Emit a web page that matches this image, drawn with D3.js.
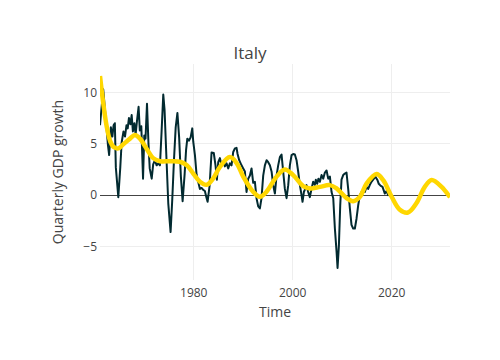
<!DOCTYPE html>
<html>
<head>
<meta charset="utf-8">
<script src="https://cdn.jsdelivr.net/npm/d3@7"></script>
<style>
  html, body { margin: 0; padding: 0; background: #fff; }
  svg { display: block; }
  text { font-family: "Open Sans", verdana, arial, sans-serif; fill: #444; }
</style>
</head>
<body>
<svg id="chart" width="500" height="360"></svg>
<script>
// ---- data ----
const chartTitle = "Italy";
const xTitle = "Time";
const yTitle = "Quarterly GDP growth";

// black series: quarterly GDP growth (time in decimal years, value in %)
const gdpTime = [
  1961.15,1961.8,1962.5,1962.75,1963.0,1963.35,1963.65,1963.9,1964.15,1964.35,
  1964.85,1965.25,1965.52,1965.9,1966.2,1966.5,1966.75,1967.0,1967.3,1967.55,
  1967.8,1968.1,1968.35,1968.6,1968.95,1969.2,1969.5,1969.85,1970.1,1970.35,
  1970.65,1970.95,1971.2,1971.6,1971.9,1972.25,1972.6,1972.93,1973.27,1973.6,
  1973.94,1974.2,1974.6,1974.95,1975.42,1975.75,1976.1,1976.45,1976.8,1977.15,
  1977.5,1977.85,1978.25,1978.55,1978.8,1979.12,1979.46,1979.8,1980.0,1980.34,
  1980.67,1981.0,1981.35,1981.68,1982.02,1982.35,1982.65,1982.9,1983.3,1983.7,
  1984.15,1984.5,1984.78,1985.05,1985.39,1985.73,1986.13,1986.4,1986.73,1987.07,
  1987.41,1987.74,1988.08,1988.42,1988.75,1988.96,1989.29,1989.76,1990.1,1990.44,
  1990.77,1991.11,1991.45,1991.78,1992.12,1992.46,1992.79,1993.13,1993.47,1993.8,
  1994.14,1994.48,1994.82,1995.15,1995.49,1995.83,1996.16,1996.5,1996.84,1997.17,
  1997.51,1997.85,1998.18,1998.52,1998.86,1999.2,1999.53,1999.87,2000.2,2000.54,
  2000.88,2001.21,2001.55,2001.89,2002.09,2002.36,2002.63,2002.9,2003.23,2003.57,
  2003.9,2004.24,2004.58,2004.78,2005.05,2005.3,2005.6,2005.94,2006.27,2006.61,
  2006.95,2007.28,2007.62,2007.96,2008.3,2008.63,2008.97,2009.17,2009.44,2009.71,
  2009.97,2010.31,2010.65,2010.98,2011.32,2011.66,2011.99,2012.33,2012.67,2013.0,
  2013.34,2013.68,2014.01,2014.35,2014.69,2015.02,2015.36,2015.7,2016.03,2016.37,
  2016.8,2017.2,2017.5,2017.9,2018.26,2018.73,2019.07,2019.4,2019.6
];
const gdpGrowth = [
  6.8,10.3,6.4,4.9,3.9,6.6,5.7,6.8,7.0,2.7,
  -0.2,2.7,5.1,6.2,5.7,6.8,6.5,7.5,6.9,7.8,
  6.2,7.0,5.9,7.1,8.6,6.3,6.7,1.6,5.8,5.5,
  8.9,5.0,2.6,1.6,3.0,3.4,2.9,3.1,2.9,6.2,
  9.8,8.3,3.4,-0.8,-3.6,-0.5,3.4,6.6,8.0,5.6,
  1.8,-0.6,2.0,4.4,5.5,5.3,5.6,6.5,5.2,3.9,
  2.0,1.3,0.6,0.7,0.5,0.4,-0.2,-0.65,0.9,4.15,
  4.1,2.9,1.5,3.2,3.6,2.9,3.2,2.8,3.1,2.6,
  3.1,2.9,4.2,4.55,4.6,4.0,3.4,2.9,2.6,2.3,
  0.3,1.6,1.9,2.6,1.2,1.3,-0.3,-1.1,-1.3,-0.3,
  1.9,2.9,3.4,3.2,2.9,2.3,0.97,0.15,1.9,2.9,
  3.7,3.95,2.3,0.6,-0.3,0.97,2.9,3.9,4.0,3.95,
  3.4,2.3,1.0,0.0,-0.65,0.3,0.6,0.97,0.3,-0.2,
  0.6,1.3,1.0,1.5,1.1,1.6,1.3,1.95,1.6,2.2,
  2.4,1.6,1.8,0.3,-0.3,-3.25,-5.5,-7.1,-4.9,-1.0,
  1.5,1.95,2.1,2.2,0.6,-1.3,-2.9,-3.25,-3.25,-2.3,
  -1.0,0.0,0.3,0.5,0.3,0.8,0.6,1.0,1.3,1.5,
  1.8,1.5,1.1,0.9,0.8,0.15,0.4,0.0,0.1
];

// yellow series: smooth trend/cycle, extends beyond the data
const trendTime = [
  1961.15,1961.82,1962.5,1963.17,1963.84,1964.85,1965.86,1967.21,1968.2,1969.23,
  1970.6,1971.9,1973.3,1975.25,1977.3,1978.7,1980.0,1981.35,1982.7,1984.0,
  1985.4,1987.4,1988.8,1990.1,1992.1,1993.5,1994.8,1996.85,1998.5,2000.2,
  2002.2,2003.6,2005.6,2007.6,2008.97,2011.0,2012.3,2013.7,2015.0,2017.05,
  2018.4,2020.1,2021.7,2023.4,2025.1,2026.8,2028.2,2030.2,2031.9
];
const trendValue = [
  11.6,8.9,6.7,5.3,4.7,4.55,4.95,5.5,5.85,5.5,
  4.5,3.6,3.3,3.3,3.25,2.9,2.1,1.3,1.0,1.6,
  2.75,3.7,3.1,1.8,0.33,-0.16,0.33,1.8,2.5,1.95,
  0.88,0.65,0.8,0.97,0.65,-0.3,-0.6,-0.16,1.1,2.05,
  1.45,-0.16,-1.4,-1.7,-0.8,0.8,1.46,0.8,-0.2
];

const xTickValues = [1980, 2000, 2020];
const yTickValues = [-5, 0, 5, 10];

// ---- layout ----
const W = 500, H = 360;
const margin = { left: 100, right: 50, top: 64, bottom: 80 };
const plotW = W - margin.left - margin.right;
const plotH = H - margin.top - margin.bottom;

const svg = d3.select("#chart");

const gdpData = gdpTime.map((t, i) => ({ t, v: gdpGrowth[i] }));
const trendData = trendTime.map((t, i) => ({ t, v: trendValue[i] }));
const allT = gdpTime.concat(trendTime);
const allV = gdpGrowth.concat(trendValue);

const x = d3.scaleLinear()
  .domain(d3.extent(allT))
  .range([margin.left, margin.left + plotW]);

const [vmin, vmax] = d3.extent(allV);
const pad = (vmax - vmin) * 0.0625;
const y = d3.scaleLinear()
  .domain([vmin - pad, vmax + pad])
  .range([margin.top + plotH, margin.top]);

// grid
const grid = svg.append("g");
grid.selectAll("line.xg").data(xTickValues).join("line")
  .attr("x1", d => x(d)).attr("x2", d => x(d))
  .attr("y1", margin.top).attr("y2", margin.top + plotH)
  .attr("stroke", "#eee").attr("stroke-width", 1)
  .attr("shape-rendering", "crispEdges");
grid.selectAll("line.yg").data(yTickValues.filter(d => d !== 0)).join("line")
  .attr("x1", margin.left).attr("x2", margin.left + plotW)
  .attr("y1", d => y(d)).attr("y2", d => y(d))
  .attr("stroke", "#eee").attr("stroke-width", 1)
  .attr("shape-rendering", "crispEdges");

// zero line
svg.append("line")
  .attr("x1", margin.left).attr("x2", margin.left + plotW)
  .attr("y1", y(0)).attr("y2", y(0))
  .attr("stroke", "#444").attr("stroke-width", 1)
  .attr("shape-rendering", "crispEdges");

// axes (labels only, like plotly)
const xAxis = d3.axisBottom(x).tickValues(xTickValues).tickFormat(d3.format("d")).tickSize(0).tickPadding(8);
const gx = svg.append("g").attr("transform", `translate(0,${margin.top + plotH})`).call(xAxis);
gx.select(".domain").remove();
gx.selectAll("text").attr("font-size", 12).attr("fill", "#444")
  .style("font-family", '"Open Sans", verdana, arial, sans-serif');

const yAxis = d3.axisLeft(y).tickValues(yTickValues)
  .tickFormat(d => d < 0 ? "\u2212" + Math.abs(d) : String(d)).tickSize(0).tickPadding(3);
const gy = svg.append("g").attr("transform", `translate(${margin.left},0)`).call(yAxis);
gy.select(".domain").remove();
gy.selectAll("text").attr("font-size", 12).attr("fill", "#444")
  .style("font-family", '"Open Sans", verdana, arial, sans-serif');

// lines
const clip = svg.append("clipPath").attr("id", "clip").append("rect")
  .attr("x", margin.left).attr("y", margin.top).attr("width", plotW).attr("height", plotH);

const lineG = svg.append("g").attr("clip-path", "url(#clip)");

const gdpLine = d3.line().x(d => x(d.t)).y(d => y(d.v));
lineG.append("path").datum(gdpData)
  .attr("d", gdpLine)
  .attr("fill", "none").attr("stroke", "#022a30").attr("stroke-width", 2)
  .attr("stroke-linejoin", "round");

const trendLine = d3.line().x(d => x(d.t)).y(d => y(d.v)).curve(d3.curveCatmullRom.alpha(0.5));
lineG.append("path").datum(trendData)
  .attr("d", trendLine)
  .attr("fill", "none").attr("stroke", "#FFD700").attr("stroke-width", 4.5)
  .attr("stroke-linejoin", "round");

// titles
svg.append("text")
  .attr("x", W / 2).attr("y", 53).attr("dy", "0.35em")
  .attr("text-anchor", "middle").attr("font-size", 17)
  .text(chartTitle);

svg.append("text")
  .attr("x", margin.left + plotW / 2).attr("y", 312).attr("dy", "0.35em")
  .attr("text-anchor", "middle").attr("font-size", 14)
  .text(xTitle);

svg.append("text")
  .attr("transform", `translate(58,${margin.top + plotH / 2}) rotate(-90)`)
  .attr("dy", "0.35em")
  .attr("text-anchor", "middle").attr("font-size", 14)
  .text(yTitle);
</script>
</body>
</html>
